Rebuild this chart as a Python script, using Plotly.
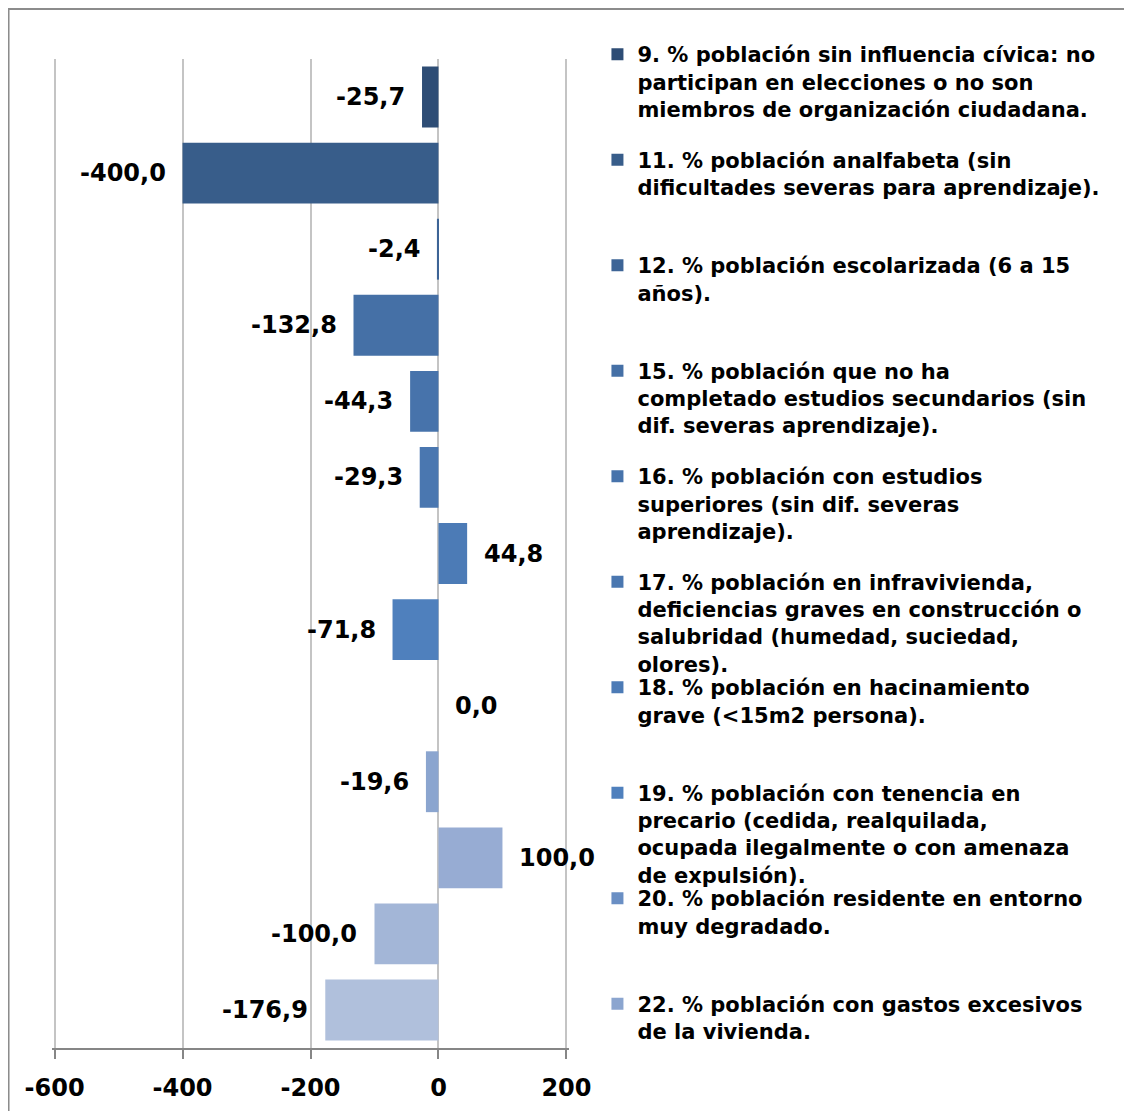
import plotly.graph_objects as go

# ---- data ----
series_codes = ["Ind. 9", "Ind. 11", "Ind. 12", "Ind. 15", "Ind. 16", "Ind. 17",
                "Ind. 18", "Ind. 19", "Ind. 20", "Ind. 22",
                "Serie 11", "Serie 12", "Serie 13"]
series_names = [
    "9. % población sin influencia cívica: no<br>participan en elecciones o no son<br>miembros de organización ciudadana.",
    "11. % población analfabeta (sin<br>dificultades severas para aprendizaje).",
    "12. % población escolarizada (6 a 15<br>años).",
    "15. % población que no ha<br>completado estudios secundarios (sin<br>dif. severas aprendizaje).",
    "16. % población con estudios<br>superiores (sin dif. severas<br>aprendizaje).",
    "17. % población en infravivienda,<br>deficiencias graves en construcción o<br>salubridad (humedad, suciedad,<br>olores).",
    "18. % población en hacinamiento<br>grave (&lt;15m2 persona).",
    "19. % población con tenencia en<br>precario (cedida, realquilada,<br>ocupada ilegalmente o con amenaza<br>de expulsión).",
    "20. % población residente en entorno<br>muy degradado.",
    "22. % población con gastos excesivos<br>de la vivienda.",
    "Serie 11", "Serie 12", "Serie 13",
]
values = [-25.7, -400.0, -2.4, -132.8, -44.3, -29.3, 44.8, -71.8, 0.0, -19.6,
          100.0, -100.0, -176.9]
colors = ["#2e4d75", "#385d8a", "#3d6496", "#4570a6", "#4773ab", "#4a77b0",
          "#4c7bb6", "#4f80bd", "#6a8fc4", "#8ba5cf", "#97acd3", "#a3b6d7",
          "#b0c0dc"]
x_ticks = [-600, -400, -200, 0, 200]
x_tick_text = ["-600", "-400", "-200", "0", "200"]
n_legend = 10

FONT = "DejaVu Sans"

# ---- geometry helpers (figure pixels) ----
W, H = 1116, 1103
PL, PR, PT, PB = 44.4, 560.6, 51, 1040


def px_x(p):
    return (p - PL) / (PR - PL)


def px_y(p):
    return (PB - p) / (PB - PT)


fig = go.Figure()
for i, (code, name, v, c) in enumerate(zip(series_codes, series_names, values, colors)):
    kw = {}
    if i < n_legend:
        kw["legend"] = "legend" if i == 0 else f"legend{i + 1}"
    fig.add_trace(go.Bar(
        y=[code], x=[v], orientation="h", name=name,
        marker=dict(color=c, line=dict(width=0)),
        showlegend=i < n_legend,
        hoverinfo="x+y",
        **kw,
    ))

# data labels
for code, v in zip(series_codes, values):
    txt = f"{v:.1f}".replace(".", ",")
    fig.add_annotation(
        x=v, y=code, xref="x", yref="y", text=txt, showarrow=False,
        xanchor="left" if v >= 0 else "right",
        xshift=15 if v >= 0 else -15,
        font=dict(family=FONT, size=24, color="black", weight="bold"),
    )

# legends, one per series, stacked at fixed spacing
legend_layout = {}
first_top = 26
step = 105.5
for i in range(n_legend):
    key = "legend" if i == 0 else f"legend{i + 1}"
    legend_layout[key] = dict(
        x=px_x(589), y=px_y(first_top + i * step),
        xanchor="left", yanchor="top",
        bgcolor="rgba(0,0,0,0)", borderwidth=0,
        font=dict(family=FONT, size=21, color="black", weight="bold"),
        valign="top", itemwidth=30, tracegroupgap=0,
    )

fig.update_layout(
    **legend_layout,
    width=W, height=H, autosize=False,
    barmode="relative",
    bargap=0.2,
    separators=",.",
    plot_bgcolor="white",
    paper_bgcolor="white",
    margin=dict(l=PL, r=W - PR, t=PT, b=H - PB, autoexpand=False),
    xaxis=dict(
        range=[-604, 204], tickvals=x_ticks, ticktext=x_tick_text,
        showgrid=True, gridcolor="#c4c4c4", gridwidth=1.5,
        zeroline=False,
        showline=True, linecolor="#868686", linewidth=2,
        ticks="outside", ticklen=9, tickwidth=2, tickcolor="#868686",
        tickfont=dict(family=FONT, size=24, color="black", weight="bold"),
        ticklabelstandoff=8,
    ),
    yaxis=dict(
        type="category", categoryorder="array", categoryarray=series_codes,
        autorange="reversed", showticklabels=False, showgrid=False,
        zeroline=False, showline=False, ticks="",
    ),
    shapes=[dict(
        type="rect", xref="paper", yref="paper",
        x0=px_x(1), x1=px_x(W + 20), y0=px_y(H + 20), y1=px_y(1),
        line=dict(color="#8c8c8c", width=2), layer="below",
    )],
)

fig.write_html("out.html")
